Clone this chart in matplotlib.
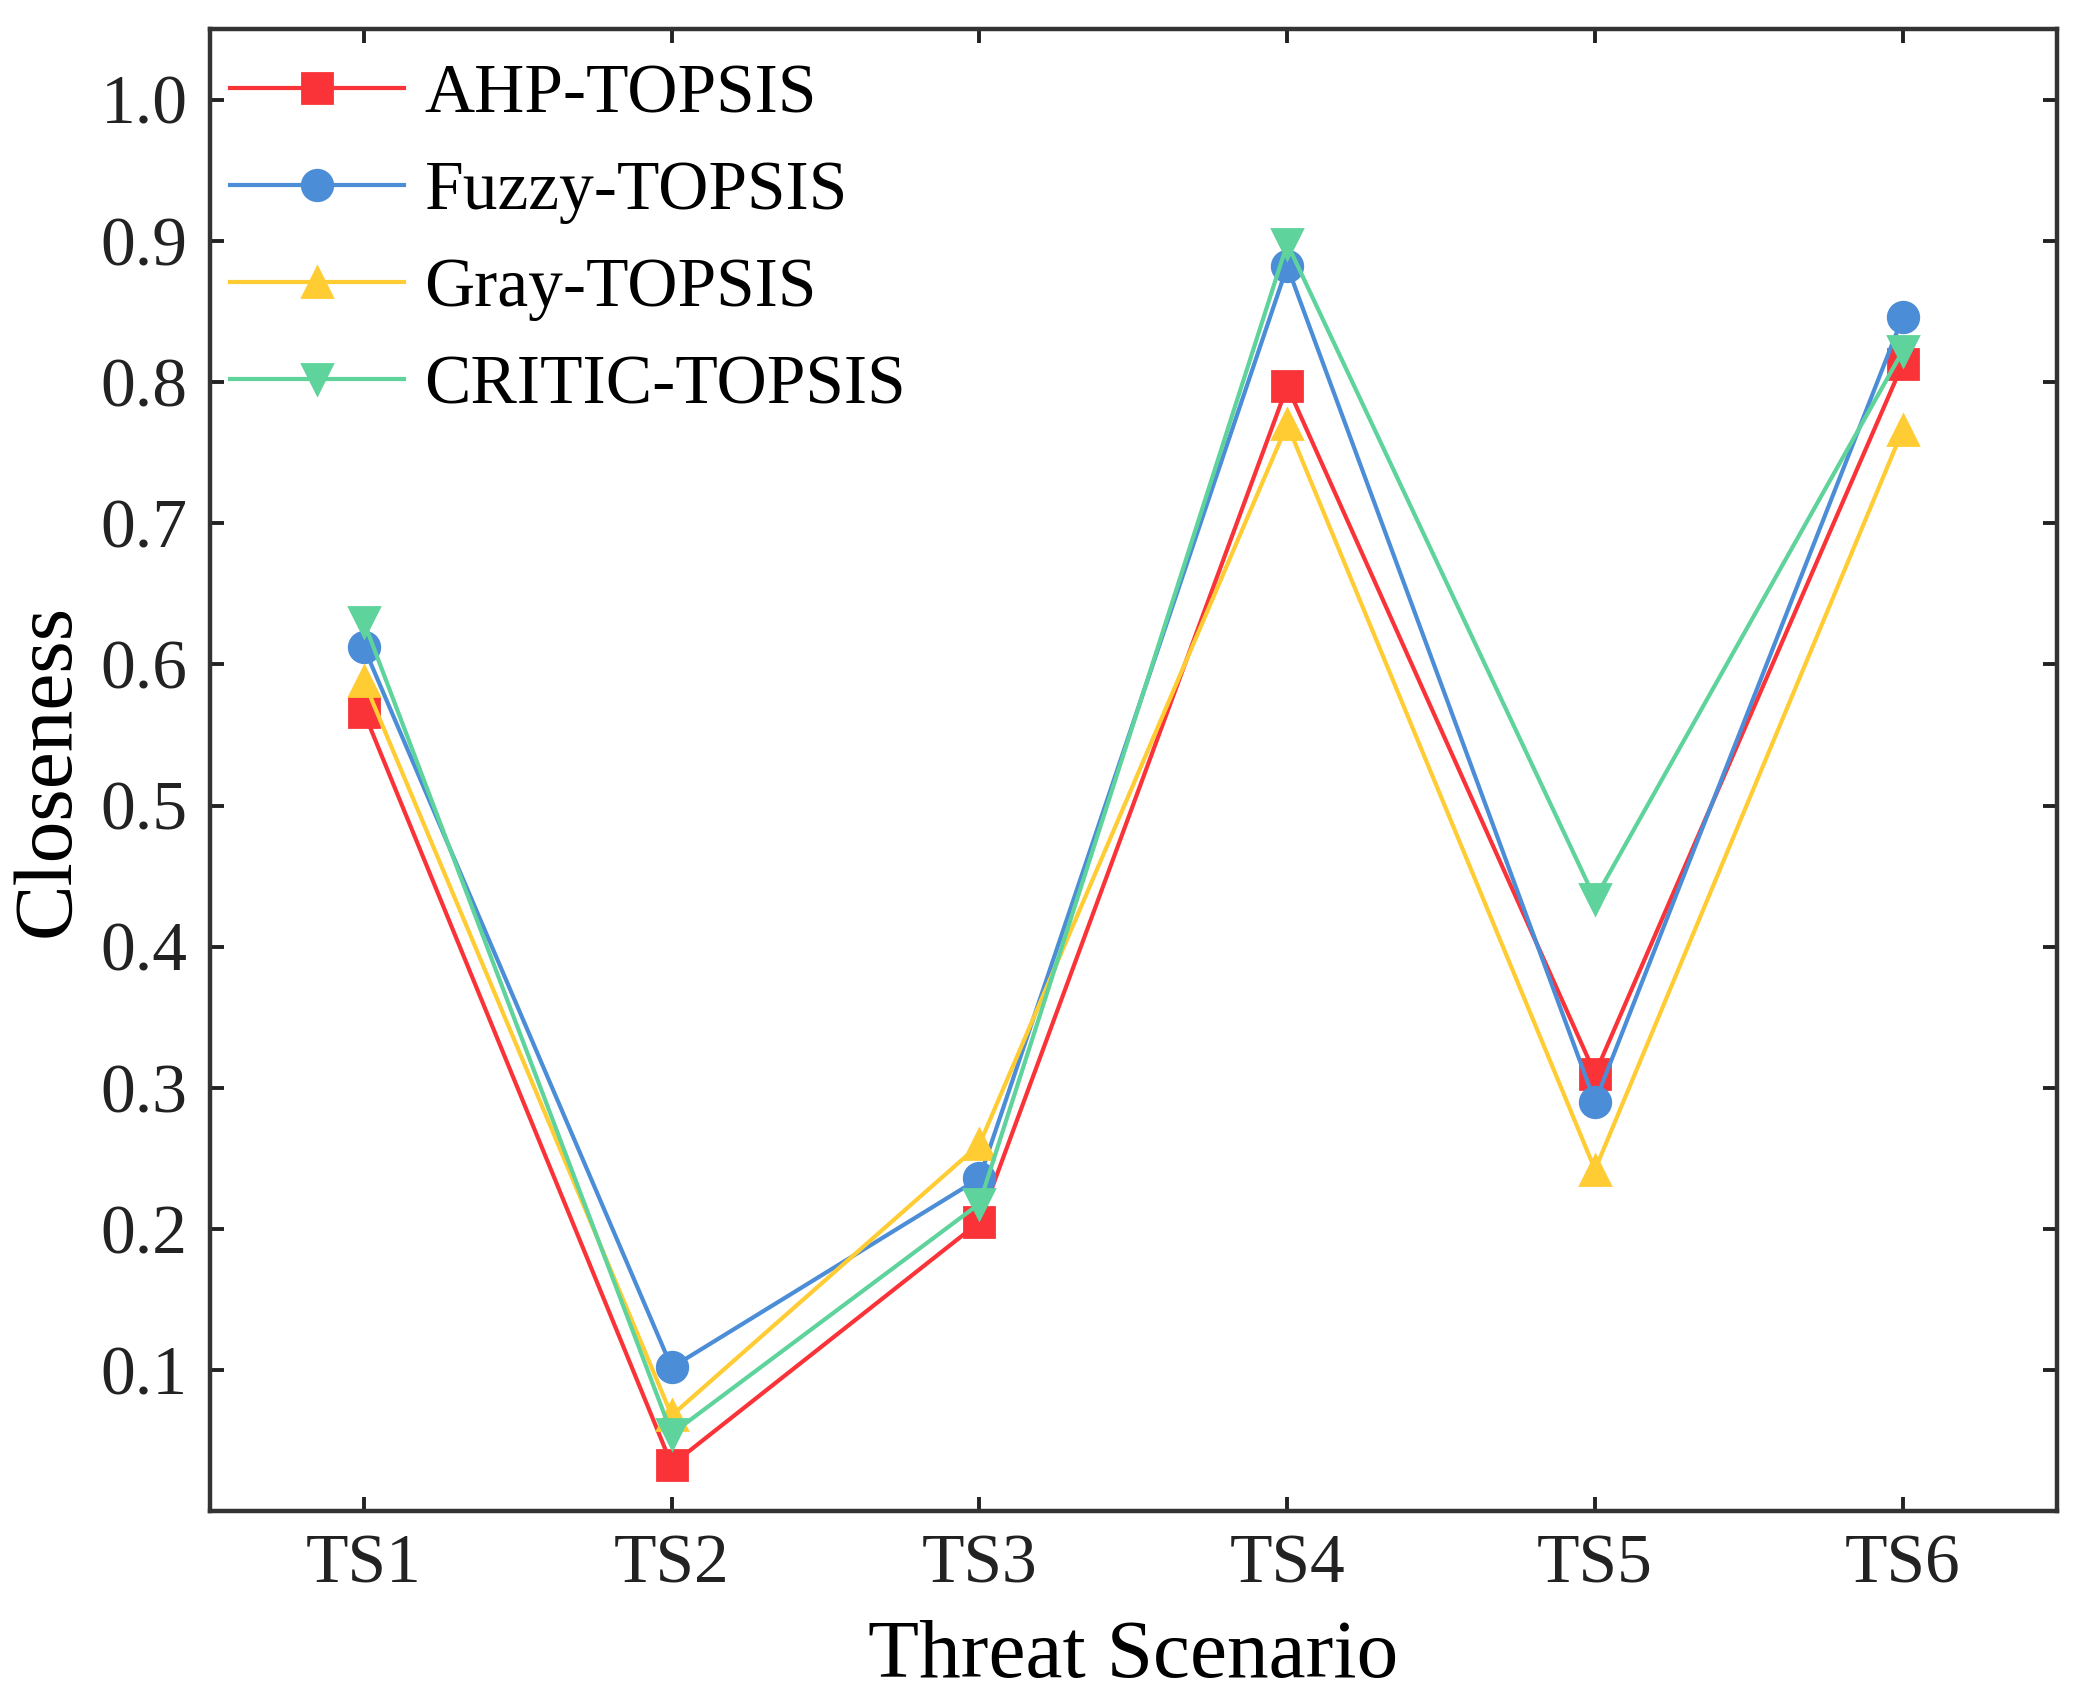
import matplotlib
matplotlib.use("Agg")
import matplotlib.pyplot as plt

scenarios = ["TS1", "TS2", "TS3", "TS4", "TS5", "TS6"]
ahp = [0.566, 0.033, 0.205, 0.797, 0.310, 0.813]
fuzzy = [0.612, 0.102, 0.236, 0.882, 0.290, 0.846]
gray = [0.588, 0.068, 0.260, 0.770, 0.242, 0.766]
critic = [0.630, 0.055, 0.218, 0.898, 0.434, 0.822]
yticks = [0.1, 0.2, 0.3, 0.4, 0.5, 0.6, 0.7, 0.8, 0.9, 1.0]

plt.rcParams['font.family'] = ['Liberation Serif', 'DejaVu Serif']

fig = plt.figure(figsize=(10.44, 8.52), dpi=200)
ax = fig.add_axes([0.1006, 0.113, 0.8844, 0.870])

x = list(range(1, len(scenarios) + 1))
series = [
    ("AHP-TOPSIS", ahp, "#FA3338", "s"),
    ("Fuzzy-TOPSIS", fuzzy, "#4B8DD6", "o"),
    ("Gray-TOPSIS", gray, "#FFCC33", "^"),
    ("CRITIC-TOPSIS", critic, "#5ED39B", "v"),
]
for label, vals, color, marker in series:
    ax.plot(x, vals, color=color, marker=marker, markersize=11,
            linewidth=1.5, label=label)

ax.set_xlim(0.5, 6.5)
ax.set_ylim(0.0, 1.05)
ax.set_xticks(x)
ax.set_xticklabels(scenarios)
ax.set_yticks(yticks)
ax.set_yticklabels([f"{v:.1f}" for v in yticks])
ax.tick_params(axis='both', direction='in', length=5, width=1.4,
               labelsize=25, top=True, right=True, pad=8, colors='#222222')
for s in ax.spines.values():
    s.set_linewidth(1.6)
    s.set_color('#333333')

ax.set_xlabel("Threat Scenario", fontsize=30, labelpad=8)
ax.set_ylabel("Closeness", fontsize=30, labelpad=5)

ax.legend(loc="upper left", frameon=False, fontsize=25, handlelength=2.5,
          labelspacing=0.48, borderaxespad=0.1, handletextpad=0.3,
          bbox_to_anchor=(-0.008, 1.0))

fig.savefig("out.png", dpi=200, facecolor="white")
